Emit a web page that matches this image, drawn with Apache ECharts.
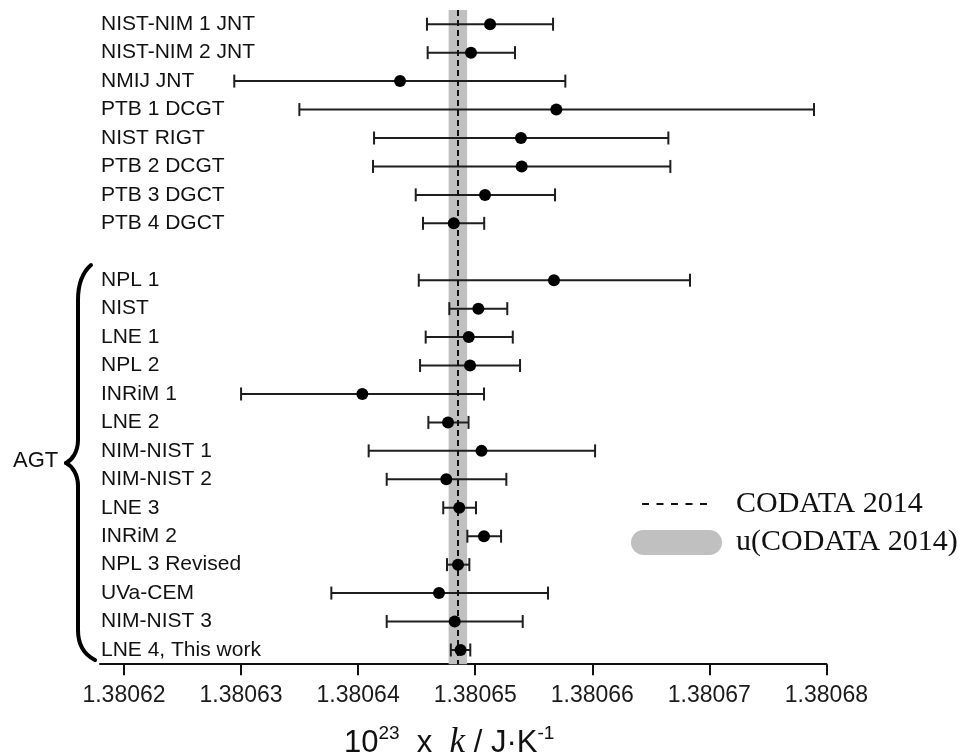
<!DOCTYPE html>
<html>
<head>
<meta charset="utf-8">
<script src="https://cdn.jsdelivr.net/npm/echarts@6/dist/echarts.min.js"></script>
<style>
html,body{margin:0;padding:0;background:#fff;}
#chart{width:967px;height:755px;}
</style>
</head>
<body>
<div id="chart"></div>
<script>
// ---- data ----
const categories = ['NIST-NIM 1 JNT','NIST-NIM 2 JNT','NMIJ JNT','PTB 1 DCGT','NIST RIGT','PTB 2 DCGT','PTB 3 DGCT','PTB 4 DGCT','',
  'NPL 1','NIST','LNE 1','NPL 2','INRiM 1','LNE 2','NIM-NIST 1','NIM-NIST 2','LNE 3','INRiM 2','NPL 3 Revised','UVa-CEM','NIM-NIST 3','LNE 4, This work'];
const kValues = [1.38065127, 1.38064964, 1.38064358, 1.38065693, 1.38065391, 1.38065397, 1.38065084, 1.38064817, null,
  1.38065673, 1.38065027, 1.38064945, 1.38064956, 1.38064036, 1.38064768, 1.38065054, 1.38064753, 1.38064864, 1.38065075, 1.38064853, 1.38064691, 1.38064825, 1.38064875];
const kLower = [1.38064588, 1.38064594, 1.38062942, 1.38063498, 1.38064136, 1.38064127, 1.38064492, 1.38064554, null,
  1.38064518, 1.38064779, 1.38064577, 1.38064529, 1.38063000, 1.38064600, 1.38064090, 1.38064244, 1.38064727, 1.38064933, 1.38064759, 1.38063771, 1.38064244, 1.38064792];
const kUpper = [1.38065665, 1.38065340, 1.38065770, 1.38067894, 1.38066650, 1.38066667, 1.38065682, 1.38065077, null,
  1.38066835, 1.38065274, 1.38065321, 1.38065383, 1.38065075, 1.38064943, 1.38066024, 1.38065266, 1.38065007, 1.38065221, 1.38064950, 1.38065622, 1.38065406, 1.38064958];
const codataValue = 1.38064852;
const codataUnc = 0.00000079;
const xTickValues = [1.38062, 1.38063, 1.38064, 1.38065, 1.38066, 1.38067, 1.38068];
const xMin = 1.38061795;
const xMax = 1.38068;

// ---- build ----
const barData = [];
const pointData = [];
categories.forEach((c, i) => {
  if (kValues[i] !== null) {
    barData.push([kLower[i], kUpper[i], i]);
    pointData.push([kValues[i], i]);
  }
});

const sans = 'Liberation Sans, Arial, sans-serif';
const serif = 'Liberation Serif, Times New Roman, serif';
const ink = '#111';
const braceStyle = { fill: 'none', stroke: '#000', lineWidth: 4, lineCap: 'round' };
function bez(x1, y1, c1x, c1y, c2x, c2y, x2, y2) {
  return { type: 'bezierCurve', silent: true, shape: { x1: x1, y1: y1, cpx1: c1x, cpy1: c1y, cpx2: c2x, cpy2: c2y, x2: x2, y2: y2 }, style: braceStyle };
}
function seg(x1, y1, x2, y2) {
  return { type: 'line', silent: true, shape: { x1: x1, y1: y1, x2: x2, y2: y2 }, style: braceStyle };
}
const dashIcon = 'path://M0,0h7v2h-7z M14.5,0h7v2h-7z M29,0h7v2h-7z M43.5,0h7v2h-7z M58,0h7v2h-7z';
const pillIcon = 'path://M12.5,0 H78.5 A12.5,12.5 0 0 1 78.5,25 H12.5 A12.5,12.5 0 0 1 12.5,0 Z';

const chart = echarts.init(document.getElementById('chart'));
chart.setOption({
  animation: false,
  backgroundColor: '#fff',
  grid: { left: 100, top: 10, width: 726.4, height: 654.2, containLabel: false, outerBoundsMode: 'none' },
  xAxis: {
    type: 'value', min: xMin, max: xMax,
    axisLine: { show: true, lineStyle: { color: ink, width: 2 } },
    axisTick: { show: true, length: 11, lineStyle: { color: ink, width: 2 }, customValues: xTickValues },
    axisLabel: { customValues: xTickValues, margin: 20, fontSize: 23, fontFamily: sans, color: '#1a1a1a',
      formatter: v => v.toFixed(5) },
    splitLine: { show: false },
    name: '{a|10}{s|23}{a|  x  }{k|k}{a| / J·K}{s|-1}',
    nameLocation: 'middle', nameGap: 60,
    nameTextStyle: {
      padding: [0, 28, 0, 0],
      rich: {
        a: { fontSize: 31, fontFamily: sans, color: ink, lineHeight: 38, verticalAlign: 'middle' },
        s: { fontSize: 19, fontFamily: sans, color: ink, lineHeight: 20, verticalAlign: 'top' },
        k: { fontSize: 35, fontFamily: serif, fontStyle: 'italic', color: ink, lineHeight: 38, verticalAlign: 'middle' }
      }
    }
  },
  yAxis: {
    type: 'category', data: categories, inverse: true,
    axisLine: { show: false }, axisTick: { show: false }, splitLine: { show: false },
    axisLabel: { inside: true, margin: 1, interval: 0, fontSize: 21, fontFamily: sans, color: ink }
  },
  legend: [
    { data: [{ name: 'CODATA 2014', icon: dashIcon }], left: 642, top: 489, padding: 0, itemWidth: 65, itemHeight: 2,
      textStyle: { fontFamily: serif, fontSize: 30, lineHeight: 30, color: ink, padding: [0, 0, 0, 24] } },
    { data: [{ name: 'u(CODATA 2014)', icon: pillIcon }],
      left: 631, top: 527.5, padding: 0, itemWidth: 91, itemHeight: 25,
      textStyle: { fontFamily: serif, fontSize: 30, lineHeight: 30, color: ink, padding: [0, 0, 0, 9] } }
  ],
  graphic: [
    bez(91, 265, 83, 272, 78, 282, 78, 300),
    seg(78, 300, 78, 440),
    bez(78, 440, 78, 452, 72, 460, 66, 463),
    bez(66, 463, 72, 466, 78, 474, 78, 486),
    seg(78, 486, 78, 630),
    bez(78, 630, 78, 645, 85, 655, 95, 660),
    { type: 'text', left: 13, top: 450, silent: true,
      style: { text: 'AGT', fontSize: 22, fontFamily: sans, fill: ink } }
  ],
  series: [
    { name: 'u(CODATA 2014)', type: 'scatter', data: [], z: 1,
      itemStyle: { color: '#c0c0c0', opacity: 1 },
      markArea: { silent: true, itemStyle: { color: '#c0c0c0', opacity: 1 },
        data: [[{ xAxis: codataValue - codataUnc }, { xAxis: codataValue + codataUnc }]] } },
    { name: 'bars', type: 'custom', z: 3, data: barData,
      encode: { x: [0, 1], y: 2 },
      renderItem: function (params, api) {
        const yi = api.value(2);
        const p1 = api.coord([api.value(0), yi]);
        const p2 = api.coord([api.value(1), yi]);
        const h = 6.5;
        const st = { stroke: '#1e1e1e', lineWidth: 2 };
        return { type: 'group', children: [
          { type: 'line', shape: { x1: p1[0], y1: p1[1], x2: p2[0], y2: p2[1] }, style: st },
          { type: 'line', shape: { x1: p1[0], y1: p1[1] - h, x2: p1[0], y2: p1[1] + h }, style: st },
          { type: 'line', shape: { x1: p2[0], y1: p2[1] - h, x2: p2[0], y2: p2[1] + h }, style: st }
        ]};
      } },
    { name: 'CODATA 2014', type: 'scatter', data: [], z: 4,
      itemStyle: { color: ink, opacity: 1 } },
    { name: 'points', type: 'scatter', z: 5, data: pointData, symbolSize: 12,
      itemStyle: { color: '#000', opacity: 1 },
      markLine: { silent: true, precision: 10, symbol: ['none', 'none'], label: { show: false },
        lineStyle: { color: ink, width: 2, type: [6, 4], opacity: 1 },
        data: [{ xAxis: codataValue }] } }
  ]
});
</script>
</body>
</html>
